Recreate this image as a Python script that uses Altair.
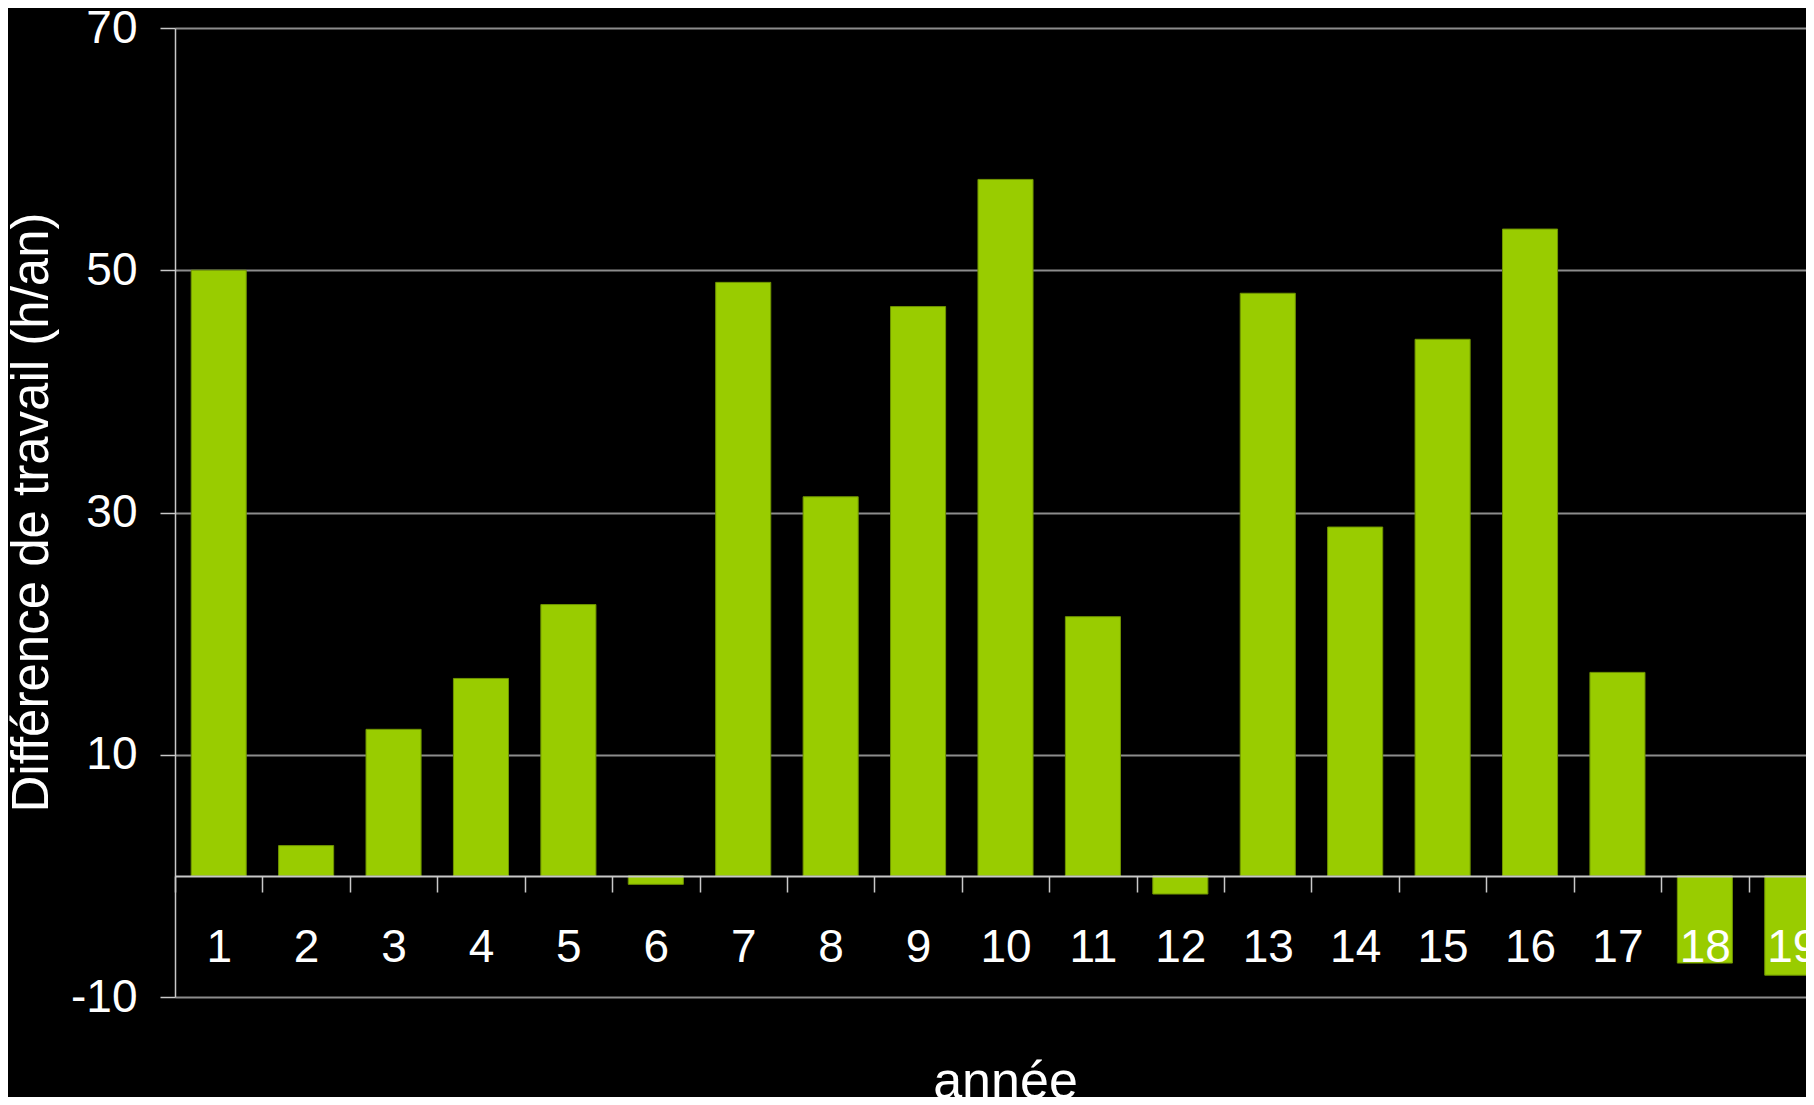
import altair as alt
import pandas as pd

annees = [str(i) for i in range(1, 20)]
difference = [50.0, 2.5, 12.1, 16.3, 22.4, -0.7, 49.0, 31.3, 47.0, 57.5,
              21.4, -1.5, 48.1, 28.8, 44.3, 53.4, 16.8, -7.2, -8.2]
y_ticks = [-10, 10, 30, 50, 70]

df = pd.DataFrame({"annee": annees, "diff": difference})

FONT = "Liberation Sans"

chart = alt.Chart(df).mark_bar(
    color="#99CC00", stroke="#6f9400", strokeWidth=1
).encode(
    x=alt.X(
        "annee:O",
        sort=annees,
        scale=alt.Scale(range=[0, 1661], paddingInner=0.37, paddingOuter=0.185),
        axis=alt.Axis(
            title="année",
            labelAngle=0,
            offset=-121,
            zindex=1,
            domainColor="#c8c8c8",
            domainWidth=2,
            tickColor="#c8c8c8",
            tickWidth=1.5,
            tickSize=16,
            tickOffset=-43.7,
            labelOffset=43.7,
            labelPadding=55,
            labelBaseline="middle",
            labelFontSize=46,
            labelColor="white",
            labelFont=FONT,
            titleFont=FONT,
            titleFontSize=52,
            titleFontWeight="normal",
            titleColor="white",
            titleX=830,
            titleY=221,
            titleAlign="center",
            titleBaseline="alphabetic",
        ),
    ),
    y=alt.Y(
        "diff:Q",
        scale=alt.Scale(domain=[-10, 70], nice=False, zero=False),
        axis=alt.Axis(
            title="Différence de travail (h/an)",
            values=y_ticks,
            labelExpr="toString(datum.value)",
            grid=True,
            gridColor="#8c8c8c",
            gridWidth=2,
            domainColor="#c8c8c8",
            domainWidth=1.5,
            tickColor="#c8c8c8",
            tickWidth=1.5,
            tickSize=15,
            labelPadding=23,
            labelFontSize=46,
            labelColor="white",
            labelFont=FONT,
            labelBaseline="middle",
            titleFont=FONT,
            titleFontSize=51,
            titleFontWeight="normal",
            titleColor="white",
            titleAngle=-90,
            titleX=-128,
            titleY=484,
            titleAlign="center",
            titleBaseline="alphabetic",
        ),
    ),
).properties(
    width=1631,
    height=969,
    background="black",
    autosize=alt.AutoSizeParams(type="none"),
    padding={"left": 167, "top": 20, "right": 0, "bottom": 100},
).configure_view(stroke=None)

chart.save("out.html", embed_options={"renderer": "svg", "actions": False})
